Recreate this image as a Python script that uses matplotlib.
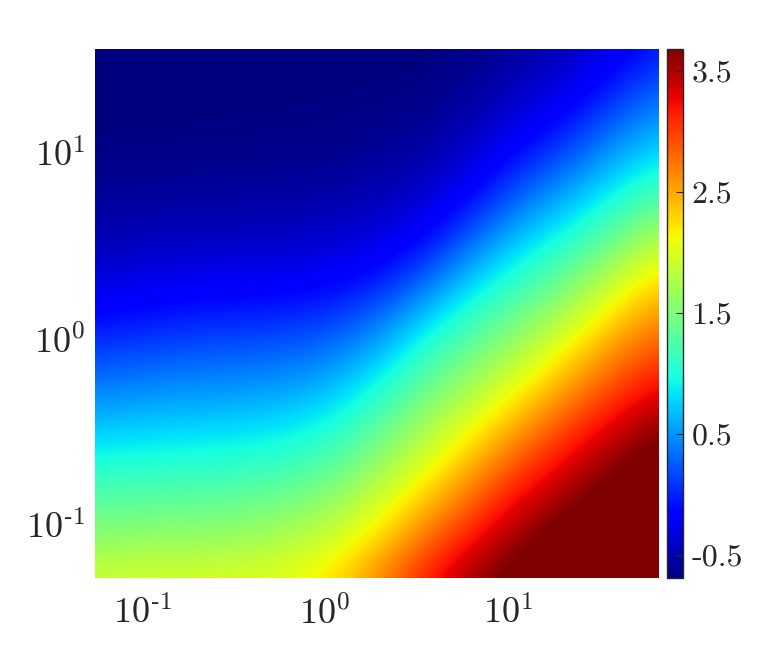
import numpy as np
import matplotlib
matplotlib.use("Agg")
import matplotlib.pyplot as plt

plt.rcParams['mathtext.fontset'] = 'cm'
TEXT = '#262626'

x_limits = [-1.257, 1.825]   # log10 of the x axis limits
y_limits = [-1.285, 1.56]    # log10 of the y axis limits
color_limits = [-0.69, 3.68]
x_ticks = [-1, 0, 1]
y_ticks = [-1, 0, 1]
x_tick_labels = ['$10^{\u20101}$', r'$10^{0}$', r'$10^{1}$']
y_tick_labels = ['$10^{\u20101}$', r'$10^{0}$', r'$10^{1}$']
bar_ticks = [-0.5, 0.5, 1.5, 2.5, 3.5]
bar_tick_labels = ['-0.5', '0.5', '1.5', '2.5', '3.5']

# values, each list from top to bottom of the plot
col_00 = [-0.69, -0.69, -0.68, -0.63, -0.53, -0.38, -0.15, 0.17, 0.51, 0.85, 1.22, 1.55, 1.93]
col_01 = [-0.69, -0.69, -0.67, -0.61, -0.50, -0.34, -0.10, 0.22, 0.55, 0.88, 1.24, 1.58, 1.96]
col_02 = [-0.69, -0.69, -0.67, -0.60, -0.49, -0.31, -0.05, 0.27, 0.58, 0.90, 1.26, 1.60, 1.98]
col_03 = [-0.69, -0.69, -0.66, -0.60, -0.48, -0.30, -0.03, 0.29, 0.60, 0.92, 1.28, 1.62, 2.00]
col_04 = [-0.69, -0.68, -0.66, -0.59, -0.47, -0.29, -0.01, 0.32, 0.64, 0.98, 1.35, 1.72, 2.05]
col_05 = [-0.69, -0.68, -0.65, -0.58, -0.44, -0.25, 0.06, 0.41, 0.76, 1.12, 1.50, 1.88, 2.22]
col_06 = [-0.69, -0.67, -0.63, -0.53, -0.38, -0.16, 0.26, 0.68, 1.09, 1.46, 1.83, 2.20, 2.65]
col_07 = [-0.69, -0.66, -0.58, -0.45, -0.27, 0.15, 0.68, 1.13, 1.49, 1.85, 2.22, 2.70, 3.15]
col_08 = [-0.66, -0.58, -0.45, -0.27, 0.14, 0.63, 1.08, 1.46, 1.84, 2.25, 2.70, 3.15, 3.58]
col_09 = [-0.57, -0.43, -0.24, 0.14, 0.57, 0.99, 1.39, 1.80, 2.23, 2.72, 3.18, 3.55, 3.85]
col_10 = [-0.47, -0.29, 0.03, 0.44, 0.86, 1.30, 1.75, 2.22, 2.68, 3.14, 3.50, 3.85, 3.95]
col_11 = [-0.29, 0.00, 0.39, 0.78, 1.23, 1.72, 2.23, 2.66, 3.08, 3.48, 3.82, 3.95, 4.00]
col_12 = [-0.04, 0.32, 0.68, 1.08, 1.62, 2.18, 2.60, 3.00, 3.40, 3.78, 3.95, 4.00, 4.00]
grid_columns = [col_00, col_01, col_02, col_03, col_04, col_05, col_06,
                col_07, col_08, col_09, col_10, col_11, col_12]

W, H = 772, 649
fig = plt.figure(figsize=(W / 100, H / 100), dpi=100)
ax = fig.add_axes([95 / W, (H - 578) / H, 564 / W, 529 / H])
cax = fig.add_axes([667 / W, (H - 578) / H, 16 / W, 529 / H])

Z = np.array(grid_columns).T
nr, nc = Z.shape
dx = (x_limits[1] - x_limits[0]) / (nc - 1)
dy = (y_limits[1] - y_limits[0]) / (nr - 1)
im = ax.imshow(Z, cmap='jet', vmin=color_limits[0], vmax=color_limits[1], aspect='auto',
               origin='upper', interpolation='bicubic',
               extent=[x_limits[0] - dx / 2, x_limits[1] + dx / 2,
                       y_limits[0] - dy / 2, y_limits[1] + dy / 2])
ax.set_xlim(x_limits)
ax.set_ylim(y_limits)
ax.set_xticks(x_ticks, x_tick_labels)
ax.set_yticks(y_ticks, y_tick_labels)
ax.tick_params(length=0, labelsize=26, labelcolor=TEXT)
ax.tick_params(axis='x', pad=13)
ax.tick_params(axis='y', pad=7)
for s in ax.spines.values():
    s.set_visible(False)

cb = fig.colorbar(im, cax=cax)
cb.set_ticks(bar_ticks, labels=bar_tick_labels)
cax.tick_params(direction='in', length=5, width=0.8, color=TEXT, right=True,
                labelsize=23, labelcolor=TEXT, pad=6)
for t in cax.get_yticklabels():
    t.set_fontfamily('cmr10')
cb.outline.set_edgecolor(TEXT)
cb.outline.set_linewidth(1.0)

fig.savefig('out.png', dpi=100)
